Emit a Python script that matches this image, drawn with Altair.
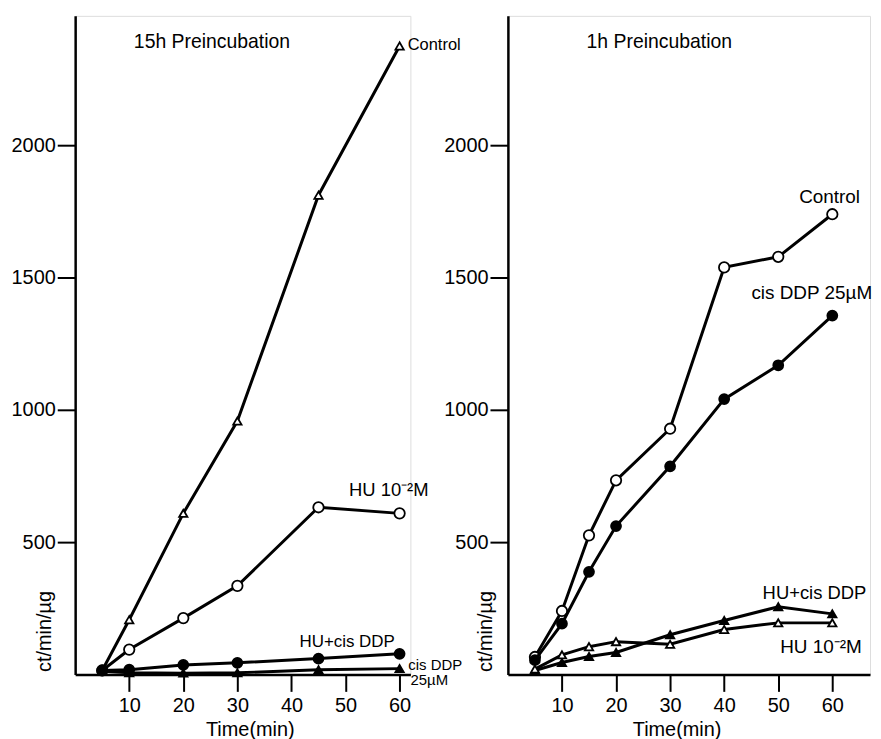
import altair as alt
import pandas as pd

# ---------------- data: left panel (15h preincubation) ----------------
t15 = [5, 10, 20, 30, 45, 60]
control15 = [15, 207, 609, 958, 1812, 2376]
hu15 = [15, 94, 213, 335, 632, 609]
hucis15 = [15, 18, 36, 44, 60, 78]
cis15 = [12, 6, 5, 6, 18, 22]

# ---------------- data: right panel (1h preincubation) ----------------
t1 = [5, 10, 15, 20, 30, 40, 50, 60]
control1 = [66, 240, 526, 734, 929, 1539, 1579, 1740]
cis1 = [54, 192, 388, 561, 787, 1041, 1169, 1357]
hucis1 = [15, 45, 68, 83, 150, 204, 256, 229]
hu1 = [20, 74, 105, 124, 114, 170, 195, 195]

# ---------------- annotation labels ----------------
lab15_text = ["15h Preincubation", "Control", "HU 10\u207b\u00b2M", "HU+cis DDP", "cis DDP", "25\u00b5M"]
lab15_x = [25.3, 66.4, 58.0, 50.3, 66.6, 65.5]
lab15_y = [2392, 2379, 696, 124, 36, -22]
lab15_fs = [19.5, 16.5, 18.5, 17, 15, 15]

lab1_text = ["1h Preincubation", "Control", "cis DDP 25\u00b5M", "HU+cis DDP", "HU 10\u207b\u00b2M"]
lab1_x = [28.0, 59.5, 56.2, 56.7, 57.9]
lab1_y = [2392, 1805, 1441, 308, 105]
lab1_fs = [19.5, 19, 19, 18.5, 19]

FONT = "Liberation Sans"
Y_MAX = 2490
H = 662


def series_layers(t, vals, shape, filled, xscale, yscale):
    df = pd.DataFrame({"t": t, "v": vals})
    base = alt.Chart(df).encode(
        x=alt.X("t:Q", scale=xscale),
        y=alt.Y("v:Q", scale=yscale),
    )
    line = base.mark_line(color="black", strokeWidth=3)
    if shape == "circle":
        size = 110 if not filled else 100
    else:
        size = 70
    pts = base.mark_point(
        shape=shape,
        filled=True,
        fill="black" if filled else "white",
        stroke="black",
        strokeWidth=1.8,
        size=size,
        opacity=1,
    )
    return [line, pts]


def panel(t, series, labels, xmax, width, ytitle_x, xtitle_x):
    xscale = alt.Scale(domain=[0, xmax], nice=False, zero=False)
    yscale = alt.Scale(domain=[0, Y_MAX], nice=False)
    xaxis = alt.Axis(
        values=[10, 20, 30, 40, 50, 60], format="d",
        tickSize=17, tickWidth=2, tickColor="black",
        domainWidth=2.5, domainColor="black",
        labelFontSize=20, labelPadding=4, labelColor="black", labelFont=FONT,
        grid=False,
        title="Time(min)", titleFont=FONT, titleFontSize=20, titleFontWeight="normal",
        titleColor="black", titleX=xtitle_x, titleY=61, titleAlign="left",
        titleBaseline="alphabetic", titleAnchor="start",
    )
    yaxis = alt.Axis(
        values=[500, 1000, 1500, 2000], format="d",
        tickSize=18, tickWidth=2, tickColor="black",
        domainWidth=2.5, domainColor="black",
        labelFontSize=20, labelPadding=2, labelColor="black", labelFont=FONT,
        grid=False,
        title="ct/min/\u00b5g", titleFont=FONT, titleFontSize=20, titleFontWeight="normal",
        titleColor="black", titleX=ytitle_x, titleY=H - 3, titleAngle=270,
        titleAlign="left", titleBaseline="middle",
    )
    layers = []
    axis_df = pd.DataFrame({"t": [t[0]], "v": [0]})
    layers.append(
        alt.Chart(axis_df).mark_point(opacity=0).encode(
            x=alt.X("t:Q", scale=xscale, axis=xaxis),
            y=alt.Y("v:Q", scale=yscale, axis=yaxis),
        )
    )
    for vals, shape, filled in series:
        layers += series_layers(t, vals, shape, filled, xscale, yscale)
    text_df = pd.DataFrame({"x": labels[1], "y": labels[2], "text": labels[0], "fs": labels[3]})
    layers.append(
        alt.Chart(text_df).mark_text(font=FONT, color="black", align="center", baseline="middle").encode(
            x=alt.X("x:Q", scale=xscale),
            y=alt.Y("y:Q", scale=yscale),
            text="text:N",
            size=alt.Size("fs:Q", scale=None, legend=None),
        )
    )
    return alt.layer(*layers).properties(width=width, height=H)


left = panel(
    t15,
    [
        (control15, "triangle-up", False),
        (hu15, "circle", False),
        (hucis15, "circle", True),
        (cis15, "triangle-up", True),
    ],
    (lab15_text, lab15_x, lab15_y, lab15_fs),
    xmax=62, width=337, ytitle_x=-31, xtitle_x=131,
)

right = panel(
    t1,
    [
        (control1, "circle", False),
        (cis1, "circle", True),
        (hucis1, "triangle-up", True),
        (hu1, "triangle-up", False),
    ],
    (lab1_text, lab1_x, lab1_y, lab1_fs),
    xmax=364 / 5.435, width=364, ytitle_x=-22, xtitle_x=125,
)

chart = (
    alt.hconcat(left, right, spacing=98, bounds="flush")
    .properties(padding={"left": 2.5, "top": 5, "right": 0, "bottom": 0}, background="white")
    .configure_view(stroke=None)
    .configure(font=FONT)
)

chart.save("out.html", embed_options={"renderer": "svg", "actions": False})
